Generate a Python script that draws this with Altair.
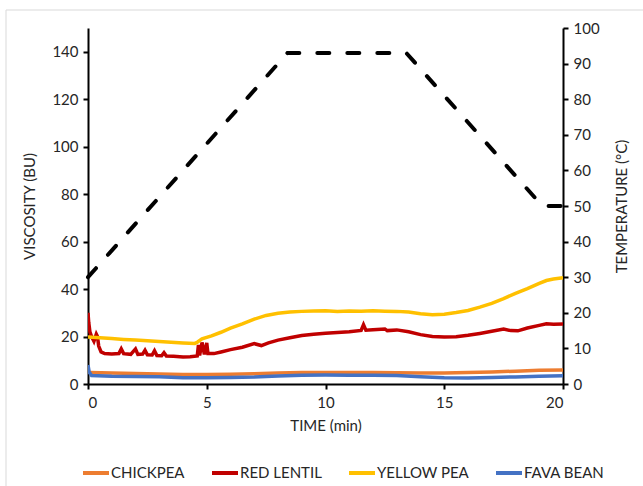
import altair as alt
import pandas as pd

# ---------------- data ----------------
chickpea_t = [0, 0.1, 1, 2, 3, 4, 5, 6, 7, 8, 9, 10, 11, 12, 13, 14, 15, 16, 17, 18, 19, 20]
chickpea_v = [5.0, 4.8, 4.6, 4.4, 4.2, 4.0, 4.0, 4.1, 4.3, 4.6, 4.8, 4.8, 4.8, 4.8, 4.7, 4.6, 4.6, 4.8, 5.1, 5.4, 5.8, 5.9]

lentil_t = [0, 0.03, 0.08, 0.15, 0.25, 0.35, 0.4, 0.45, 0.55, 0.7, 1.0, 1.3, 1.4, 1.5, 1.8, 2.0, 2.1,
            2.3, 2.4, 2.5, 2.7, 2.8, 2.9, 3.1, 3.2, 3.3, 3.6, 4.0, 4.3, 4.6, 4.65, 4.7, 4.8, 4.9, 5.0,
            5.05, 5.3, 5.6, 6.0, 6.5, 7.0, 7.3, 7.6, 8.0, 8.5, 9, 9.5, 10, 10.5, 11, 11.5, 11.6, 11.7,
            12, 12.5, 12.6, 13, 13.5, 14, 14.5, 15, 15.5, 16, 16.5, 17, 17.5, 17.8, 18.1, 18.5, 19,
            19.3, 19.6, 20]
lentil_v = [30, 26, 22, 20, 18, 21, 20, 16, 13.5, 12.8, 12.6, 12.8, 14.8, 12.8, 12.5, 14.8, 12.5,
            12.6, 14.2, 12.3, 12.2, 14.0, 12.0, 11.9, 13.2, 11.8, 11.7, 11.4, 11.5, 11.8, 16.5, 12.0,
            17.5, 12.5, 17.3, 12.8, 12.8, 13.5, 14.5, 15.5, 17.0, 16.2, 17.3, 18.5, 19.5, 20.4, 21.0,
            21.4, 21.7, 22.0, 22.6, 25.0, 22.7, 22.9, 23.2, 22.5, 22.8, 22.0, 20.8, 20.0, 19.8, 19.9,
            20.5, 21.3, 22.2, 23.2, 22.5, 22.4, 23.6, 24.7, 25.4, 25.2, 25.3]

pea_t = [0, 0.5, 1, 1.5, 2, 2.5, 3, 3.5, 4, 4.5, 4.6, 4.8, 5.2, 5.6, 6, 6.5, 7, 7.5, 8, 8.5, 9, 9.5,
         10, 10.5, 11, 11.5, 12, 12.5, 13, 13.5, 14, 14.5, 15, 15.5, 16, 16.5, 17, 17.5, 18, 18.5,
         19, 19.3, 19.6, 20]
pea_v = [19.8, 19.5, 19.2, 18.8, 18.5, 18.2, 17.9, 17.6, 17.3, 17.1, 17.6, 19.0, 20.3, 21.8, 23.5,
         25.3, 27.3, 28.9, 29.8, 30.3, 30.6, 30.8, 30.9, 30.6, 30.8, 30.7, 30.9, 30.7, 30.6, 30.3,
         29.6, 29.2, 29.4, 30.1, 31.0, 32.4, 34.0, 36.0, 38.2, 40.2, 42.4, 43.6, 44.2, 44.8]

fava_t = [0, 0.05, 0.15, 1, 2, 3, 4, 5, 6, 7, 8, 9, 10, 11, 12, 13, 14, 15, 16, 17, 18, 19, 20]
fava_v = [8.0, 5.0, 3.6, 3.3, 3.2, 3.1, 2.6, 2.6, 2.7, 2.9, 3.4, 3.7, 3.8, 3.7, 3.7, 3.6, 3.1, 2.6,
          2.5, 2.7, 3.0, 3.3, 3.5]

temp_t = [0, 8.4, 13.4, 19.13, 20]
temp_v = [30, 93, 93, 50, 50]

series_names = ["CHICKPEA", "RED LENTIL", "YELLOW PEA", "FAVA BEAN"]
series_colors = ["#ED7D31", "#C00000", "#FFC000", "#4472C4"]

rows = []
for i, (name, ts, vs) in enumerate(zip(series_names,
                                       [chickpea_t, lentil_t, pea_t, fava_t],
                                       [chickpea_v, lentil_v, pea_v, fava_v])):
    for t, v in zip(ts, vs):
        rows.append({"series": name, "time": t, "visc": v, "order": i})
visc_df = pd.DataFrame(rows)
temp_df = pd.DataFrame({"time": temp_t, "temp": temp_v})

FONT = "Lato"
TXT = "#262626"

x_enc = alt.X("time:Q", scale=alt.Scale(domain=[0, 20], nice=False),
              axis=alt.Axis(title="TIME (min)", values=[0, 5, 10, 15, 20], grid=False,
                            domainColor="black", domainWidth=2, tickColor="black", tickWidth=2,
                            tickSize=5, labelPadding=6, titlePadding=8))

visc = alt.Chart(visc_df).mark_line(strokeWidth=3.5, clip=True).encode(
    x=x_enc,
    y=alt.Y("visc:Q", scale=alt.Scale(domain=[0, 150], nice=False),
            axis=alt.Axis(title="VISCOSITY (BU)", values=[0, 20, 40, 60, 80, 100, 120, 140],
                          grid=False, orient="left", domainColor="black", domainWidth=2,
                          tickColor="black", tickWidth=2, tickSize=5, labelPadding=5,
                          titlePadding=14)),
    color=alt.Color("series:N", scale=alt.Scale(domain=series_names, range=series_colors),
                    legend=alt.Legend(title=None, orient="none", direction="horizontal",
                                      legendX=-7, legendY=430, symbolType="stroke",
                                      symbolSize=676, symbolStrokeWidth=4, labelOffset=0,
                                      columnPadding=19, labelFontSize=15, labelColor=TXT,
                                      labelFont=FONT)),
    order="order:Q",
    detail="series:N",
)

temp = alt.Chart(temp_df).mark_line(color="black", strokeWidth=4, strokeDash=[12, 18],
                                    strokeCap="round").encode(
    x=alt.X("time:Q", scale=alt.Scale(domain=[0, 20], nice=False)),
    y=alt.Y("temp:Q", scale=alt.Scale(domain=[0, 100], nice=False),
            axis=alt.Axis(title="TEMPERATURE (°C)", values=list(range(0, 101, 10)), grid=False,
                          orient="right", domainColor="black", domainWidth=2, tickColor="black",
                          tickWidth=2, tickSize=5, labelPadding=5, titlePadding=30,
                          titleAngle=270)),
)

frame_top = alt.Chart(pd.DataFrame({"a": [0]})).mark_rule(color="#d9d9d9", strokeWidth=1).encode(
    x=alt.value(-82), x2=alt.value(560), y=alt.value(-18))
frame_left = alt.Chart(pd.DataFrame({"a": [0]})).mark_rule(color="#d9d9d9", strokeWidth=1).encode(
    x=alt.value(-82), y=alt.value(-18), y2=alt.value(470))

chart = alt.layer(frame_top, frame_left, visc, temp).resolve_scale(
    y="independent", color="independent"
).properties(
    width=475, height=356,
    background="white",
    autosize=alt.AutoSizeParams(type="none"),
    padding={"left": 88, "top": 28, "right": 80, "bottom": 102},
).configure_view(stroke=None).configure_axis(
    labelFont=FONT, titleFont=FONT, labelFontSize=15, titleFontSize=15,
    labelColor=TXT, titleColor=TXT, titleFontWeight="normal"
)

chart.save("out.html", embed_options={"renderer": "svg", "actions": False})
